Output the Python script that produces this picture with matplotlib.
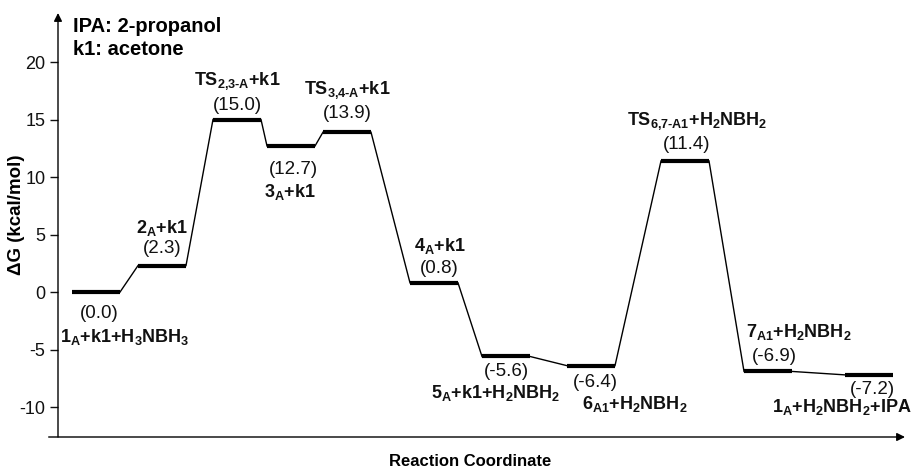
import matplotlib
matplotlib.use("Agg")
import matplotlib.pyplot as plt

plt.rcParams["font.family"] = ["Liberation Sans", "DejaVu Sans"]
plt.rcParams["mathtext.fontset"] = "custom"
plt.rcParams["mathtext.rm"] = "Liberation Sans"
plt.rcParams["mathtext.bf"] = "Liberation Sans:bold"
plt.rcParams["mathtext.default"] = "bf"
plt.rcParams["axes.unicode_minus"] = False

# reaction coordinate position (centre of each level) and free energy
pos = [96, 162, 237, 291, 347, 434, 506, 591, 685, 768, 869]
energy = [0.0, 2.3, 15.0, 12.7, 13.9, 0.8, -5.6, -6.4, 11.4, -6.9, -7.2]
names = [
    "1$_{A}$+k1+H$_{3}$NBH$_{3}$",
    "2$_{A}$+k1",
    "TS$_{2{,}3\u2010A}$+k1",
    "3$_{A}$+k1",
    "TS$_{3{,}4\u2010A}$+k1",
    "4$_{A}$+k1",
    "5$_{A}$+k1+H$_{2}$NBH$_{2}$",
    "6$_{A1}$+H$_{2}$NBH$_{2}$",
    "TS$_{6{,}7\u2010A1}$+H$_{2}$NBH$_{2}$",
    "7$_{A1}$+H$_{2}$NBH$_{2}$",
    "1$_{A}$+H$_{2}$NBH$_{2}$+IPA",
]
# label offsets in pixels: (value dx, value dy, name dx, name dy)
offs = [
    (3, -21, 29, -45),
    (0, 17, 0, 38),
    (0, 14, 0, 38),
    (2, -24, -1, -46),
    (0, 19, 0, 42),
    (5, 14, 6, 37),
    (0, -15, -10, -37),
    (4, -17, 44, -38),
    (2, 16, 12, 40),
    (6, 15, 31, 39),
    (3, -15, -27, -32),
]
half = 24

fig = plt.figure(figsize=(9.12, 4.71), dpi=100)
ax = fig.add_axes([58 / 912, 1 - 437 / 471, 847 / 912, 424 / 471])
ax.set_xlim(58, 905)
ax.set_ylim(-12.6, 24.26)

for i in range(len(pos)):
    ax.plot([pos[i] - half, pos[i] + half], [energy[i], energy[i]],
            color="black", lw=3, solid_capstyle="butt")
    if i < len(pos) - 1:
        ax.plot([pos[i] + half, pos[i + 1] - half], [energy[i], energy[i + 1]],
                color="black", lw=1)
    vdx, vdy, ndx, ndy = offs[i]
    ax.annotate("(%.1f)" % energy[i], (pos[i], energy[i]), xytext=(vdx, vdy),
                textcoords="offset pixels", ha="center", va="center",
                fontsize=13.5, color="#111111")
    ax.annotate(names[i], (pos[i], energy[i]), xytext=(ndx, ndy),
                textcoords="offset pixels", ha="center", va="center",
                fontsize=13, fontweight="bold", color="#111111",
                annotation_clip=False)

for s in ax.spines.values():
    s.set_visible(False)
ax.annotate("", xy=(0, 1), xytext=(0, 0), xycoords="axes fraction",
            arrowprops=dict(arrowstyle="-|>", color="black", lw=1,
                            mutation_scale=12, shrinkA=0, shrinkB=0))
ax.annotate("", xy=(1, 0), xytext=(-0.011, 0), xycoords="axes fraction",
            arrowprops=dict(arrowstyle="-|>", color="black", lw=1,
                            mutation_scale=12, shrinkA=0, shrinkB=0))

ax.set_xticks([])
ax.set_yticks([-10, -5, 0, 5, 10, 15, 20])
ax.tick_params(axis="y", direction="out", length=6, width=1, labelsize=13,
               pad=3, colors="#111111")

fig.text(17 / 912, 1 - 215 / 471, "ΔG (kcal/mol)", fontsize=13.5,
         fontweight="bold", rotation=90, ha="center", va="center")
fig.text(470 / 912, 1 - 462 / 471, "Reaction Coordinate", fontsize=12,
         fontweight="bold", ha="center", va="center")

fig.text(73 / 912, 1 - 32 / 471, "IPA: 2-propanol", fontsize=14.5,
         fontweight="bold", ha="left", va="baseline")
fig.text(73 / 912, 1 - 55 / 471, "k1: acetone", fontsize=14.5,
         fontweight="bold", ha="left", va="baseline")

fig.savefig("out.png", dpi=100)
